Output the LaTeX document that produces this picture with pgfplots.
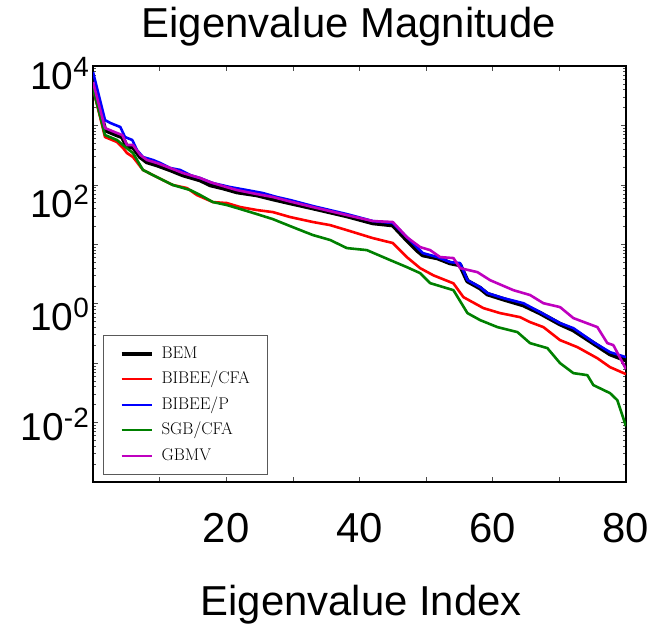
\documentclass[border=0pt]{standalone}
\usepackage{pgfplots}
\pgfplotsset{compat=1.18}
\usepackage{fontspec}
\newfontfamily\arial{Liberation Sans}
\newcommand{\pw}[1]{10\raisebox{13bp}{\fontsize{28}{28}\selectfont #1}}
\definecolor{mplgreen}{rgb}{0,0.5,0}
\definecolor{mplmag}{rgb}{0.75,0,0.75}

\pgfplotstableread{
x y
0 4790
1.8 837
3.6 689
4.4 638
5.1 433
6.0 433
7.1 294
8.1 242
9.6 215
11.6 178
13.5 146
16.1 120
17.6 99.3
19.5 88.3
21.6 75.7
24.6 67.3
27.0 57.7
29.6 49.4
33.0 40.6
38.1 29.9
42.0 22.8
45.0 21.0
47.1 11.8
48.6 7.98
49.5 6.58
51.7 5.86
53.6 4.83
55.1 4.47
56.2 2.40
58.1 1.83
59.2 1.45
61.6 1.19
64.6 0.946
67.1 0.695
70.1 0.454
72.1 0.360
75.1 0.217
77.6 0.142
80 0.112
}\bem

\pgfplotstableread{
x y
0 4270
1.8 638
3.6 526
4.5 417
5.1 343
6.0 294
7.5 178
9.0 146
10.5 120
12.0 99.3
14.1 88.3
15.6 67.3
18.0 51.3
20.1 49.4
22.1 42.3
24.6 37.7
27.0 34.8
29.6 28.7
33.0 23.7
35.6 21.0
38.1 17.3
42.0 12.7
45.0 10.5
47.1 6.09
49.1 3.97
51.1 3.0
54.1 2.2
55.6 1.29
58.6 0.843
61.1 0.695
64.1 0.594
65.6 0.490
67.6 0.404
70.1 0.244
72.7 0.186
75.7 0.121
77.6 0.0857
80 0.0653
}\bibeecfa

\pgfplotstableread{
x y
0 7930
1.8 1230
2.6 1100
4.1 940
4.8 638
5.9 568
6.6 385
7.5 294
9.0 262
10.1 233
11.6 192
13.1 178
14.6 146
16.1 130
18.0 107
20.6 91.8
23.1 81.7
25.5 72.8
27.6 62.4
29.6 55.5
33.0 44.0
38.1 32.2
42.0 24.6
45.0 22.8
47.1 13.2
48.6 8.97
49.5 7.11
51.7 6.09
53.6 5.01
55.1 4.83
56.2 2.49
58.1 1.90
59.2 1.51
61.6 1.24
64.6 1.02
67.1 0.722
70.1 0.471
72.1 0.388
75.1 0.226
77.6 0.153
80 0.126
}\bibeep

\pgfplotstableread{
x y
0 4270
1.8 689
3.6 568
4.5 468
6.0 343
7.5 178
9.0 146
10.5 120
12.0 99.3
14.6 81.7
16.1 67.3
18.0 51.3
20.1 45.7
22.1 39.2
24.6 32.2
27.0 26.5
29.6 20.2
33.0 14.3
35.6 11.8
38.1 8.63
41.1 7.98
44.6 5.42
47.1 4.13
49.1 3.27
50.6 2.22
54.1 1.69
56.2 0.695
58.1 0.530
60.7 0.404
63.7 0.333
65.6 0.217
68.2 0.179
70.1 0.100
72.1 0.0679
74.2 0.0628
75.1 0.0427
77.6 0.0313
78.7 0.0238
80 0.0087
}\sgbcfa

\pgfplotstableread{
x y
0 5380
1.8 904
3.6 745
4.4 689
5.1 468
6.0 468
7.1 318
8.1 262
9.6 233
11.6 192
13.5 158
16.1 130
17.6 111
19.5 95.5
21.6 81.7
24.6 70.0
27.0 62.4
29.6 52.4
33.0 42.3
38.1 31.0
42.0 24.6
45.0 23.7
47.1 13.2
49.1 8.97
50.6 7.98
52.1 6.09
54.1 5.86
55.1 3.97
57.7 3.40
59.6 2.49
63.1 1.69
65.6 1.40
67.6 1.02
70.1 0.877
72.1 0.573
75.7 0.404
77.2 0.217
78.1 0.201
80 0.0793
}\gbmv

\begin{document}
\begin{tikzpicture}
\path[use as bounding box] (-93bp,-144bp) rectangle (556bp,482bp);
\begin{axis}[
  at={(0,0)}, anchor=south west,
  scale only axis, width=533bp, height=416bp,
  xmin=0, xmax=80,
  ymode=log, ymin=1e-3, ymax=1e4,
  xtick={10,20,...,80},
  xticklabels={,20,,40,,60,,80},
  ytick={1e-3,1e-2,1e-1,1,1e1,1e2,1e3,1e4},
  minor ytick={2e-3,3e-3,4e-3,5e-3,6e-3,7e-3,8e-3,9e-3,
    2e-2,3e-2,4e-2,5e-2,6e-2,7e-2,8e-2,9e-2,
    0.2,0.3,0.4,0.5,0.6,0.7,0.8,0.9,
    2,3,4,5,6,7,8,9,
    20,30,40,50,60,70,80,90,
    200,300,400,500,600,700,800,900,
    2000,3000,4000,5000,6000,7000,8000,9000},
  yticklabels={,\raisebox{9.5bp}{\pw{-2}},,\pw{0},,\raisebox{-6bp}{\pw{2}},,\raisebox{3bp}{\pw{4}}},
  axis line style={black, line width=1.2bp},
  major tick length=5bp, minor tick length=3bp,
  every tick/.style={black!70, line width=0.6bp},
  tick align=inside,
  xticklabel style={font=\arial\fontsize{42}{42}\selectfont, anchor=base, yshift=-60bp, inner sep=0pt},
  yticklabel style={font=\arial\fontsize{39}{39}\selectfont, anchor=base east, xshift=-4bp, yshift=-27bp, inner sep=0pt},
  title={Eigenvalue Magnitude},
  title style={font=\arial\fontsize{42}{42}\selectfont, at={(axis description cs:0.48,1)}, anchor=base, yshift=23bp, inner sep=0pt},
  xlabel={Eigenvalue Index},
  xlabel style={font=\arial\fontsize{42}{42}\selectfont, at={(axis description cs:0.503,0)}, anchor=base, yshift=-133bp, inner sep=0pt},
  legend cell align=left,
  legend image code/.code={\draw[#1] (0bp,0bp) -- (30bp,0bp);},
  legend style={at={(rel axis cs:0.0188,0.0168)}, anchor=south west,
    draw=black!65, line width=1bp, inner xsep=16bp, inner ysep=9bp,
    font=\fontsize{17}{17}\selectfont, row sep=6bp, column sep=6bp,
    nodes={inner sep=2bp, text height=12bp, text depth=3.5bp}},
]
\addplot[draw=black, line width=4.5bp, line join=round, legend image post style={draw=black, line width=4bp}] table[x=x,y=y] {\bem};
\addlegendentry{BEM}
\addplot[draw=red, line width=2.6bp, line join=round, legend image post style={draw=red, line width=1.6bp}] table[x=x,y=y] {\bibeecfa};
\addlegendentry{BIBEE/CFA}
\addplot[draw=blue, line width=2.6bp, line join=round, legend image post style={draw=blue, line width=1.6bp}] table[x=x,y=y] {\bibeep};
\addlegendentry{BIBEE/P}
\addplot[draw=mplgreen, line width=2.6bp, line join=round, legend image post style={draw=mplgreen, line width=1.6bp}] table[x=x,y=y] {\sgbcfa};
\addlegendentry{SGB/CFA}
\addplot[draw=mplmag, line width=2.6bp, line join=round, legend image post style={draw=mplmag, line width=1.6bp}] table[x=x,y=y] {\gbmv};
\addlegendentry{GBMV}
\end{axis}
\end{tikzpicture}
\end{document}
